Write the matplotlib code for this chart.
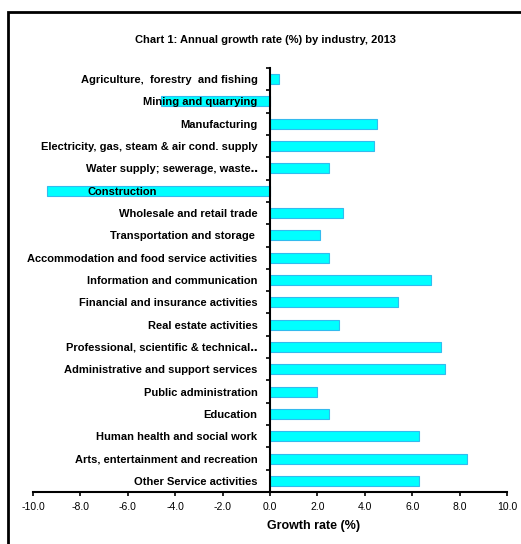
"""Annual growth rate by industry, 2013 — horizontal bar chart."""

import matplotlib
matplotlib.use("Agg")
import matplotlib.pyplot as plt
import matplotlib.transforms as mtransforms
from matplotlib.patches import Rectangle
from matplotlib.ticker import FixedLocator, FormatStrFormatter

plt.rcParams["font.family"] = ["Liberation Sans", "DejaVu Sans"]

industries = [
    "Agriculture,  forestry  and fishing",
    "Mining and quarrying",
    "Manufacturing",
    "Electricity, gas, steam & air cond. supply",
    "Water supply; sewerage, waste\u2025",
    "Construction",
    "Wholesale and retail trade",
    "Transportation and storage ",
    "Accommodation and food service activities",
    "Information and communication",
    "Financial and insurance activities",
    "Real estate activities",
    "Professional, scientific & technical\u2025",
    "Administrative and support services",
    "Public administration",
    "Education",
    "Human health and social work",
    "Arts, entertainment and recreation",
    "Other Service activities",
]
growth = [0.4, -4.6, 4.5, 4.4, 2.5, -9.4, 3.1, 2.1, 2.5, 6.8,
          5.4, 2.9, 7.2, 7.4, 2.0, 2.5, 6.3, 8.3, 6.3]
x_ticks = [-10, -8, -6, -4, -2, 0, 2, 4, 6, 8, 10]

fig = plt.figure(figsize=(5.21, 5.44), dpi=100)
ax = fig.add_axes([33 / 521, 1 - 492 / 544, 474 / 521, 424 / 544])

# frame around the chart area (only left and top edges visible)
fig.patches.append(Rectangle((8 / 521, -0.1), 1.2, 1 - 12 / 544 + 0.1,
                             transform=fig.transFigure, fill=False,
                             edgecolor="black", lw=2.0))

pos = list(range(len(industries)))
ax.barh(pos, growth, height=0.45, color="#00FFFF", edgecolor="#33BBEE",
        lw=0.8, zorder=1)
ax.set_axisbelow(False)

ax.set_xlim(-10, 10)
ax.set_ylim(len(industries) - 0.5, -0.5)
ax.xaxis.set_major_locator(FixedLocator(x_ticks))
ax.xaxis.set_major_formatter(FormatStrFormatter("%.1f"))
ax.tick_params(axis="x", direction="out", length=3, width=1.2,
               labelsize=7.5, pad=4)

ax.spines["left"].set_position(("data", 0))
ax.spines["left"].set_linewidth(1.5)
ax.spines["bottom"].set_linewidth(1.5)
ax.spines["top"].set_visible(False)
ax.spines["right"].set_visible(False)

ax.set_yticks(pos)
ax.set_yticklabels(industries, fontsize=8, fontweight="bold")
ax.tick_params(axis="y", length=0, pad=9)
ax.set_yticks([p - 0.5 for p in pos] + [len(pos) - 0.5], minor=True)
ax.tick_params(axis="y", which="minor", direction="out", length=3, width=1.2)

# the Construction label sits further left, over its long negative bar
shift = mtransforms.ScaledTranslation(-1.0, 0, fig.dpi_scale_trans)
lbl = ax.get_yticklabels()[industries.index("Construction")]
lbl.set_transform(lbl.get_transform() + shift)

ax.set_xlabel("Growth rate (%)", fontsize=9, fontweight="bold", labelpad=4)
ax.xaxis.set_label_coords((314 - 33) / 474, -0.066)
fig.text(265 / 521, 1 - 40 / 544, "Chart 1: Annual growth rate (%) by industry, 2013",
         ha="center", va="center", fontsize=8, fontweight="bold")

fig.savefig("out.png", dpi=100)
